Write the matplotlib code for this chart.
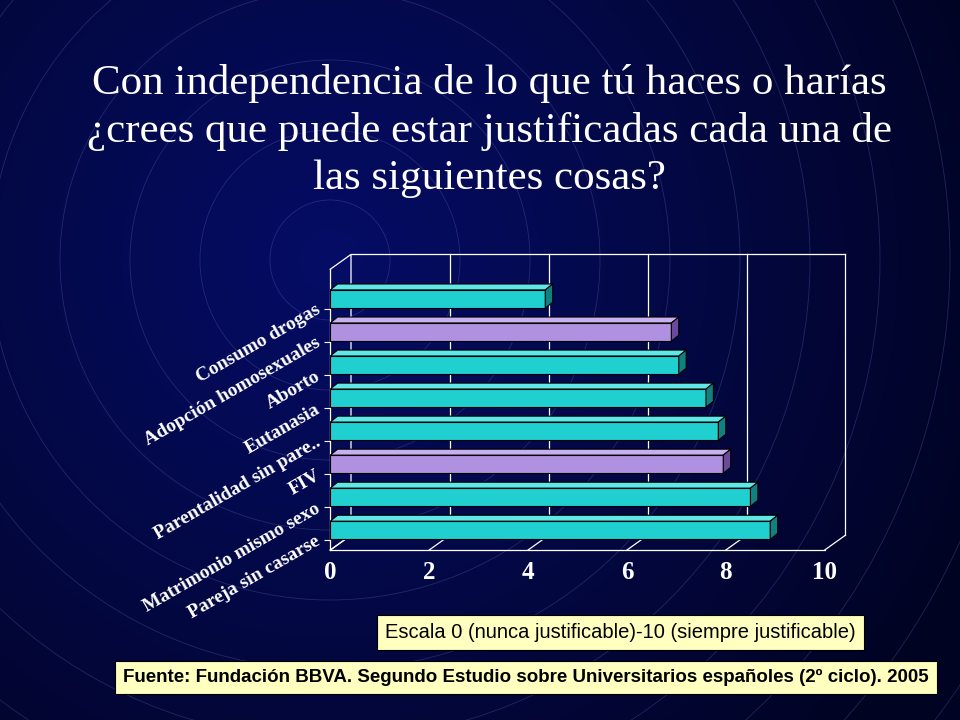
import matplotlib
matplotlib.use("Agg")
import matplotlib.pyplot as plt
import numpy as np
from matplotlib.patches import Polygon, Circle

categories = ["Pareja sin casarse", "Matrimonio mismo sexo", "FIV", "Parentalidad sin pare..",
              "Eutanasia", "Aborto", "Adopción homosexuales", "Consumo drogas"]
values = [8.9, 8.5, 7.95, 7.85, 7.6, 7.05, 6.9, 4.35]
highlight = [False, False, True, False, False, False, True, False]
xticks = [0, 2, 4, 6, 8, 10]

fig = plt.figure(figsize=(9.6, 7.2), dpi=100)
bg = fig.add_axes([0, 0, 1, 1], zorder=-10)
yy, xx = np.mgrid[0:720, 0:960]
r = np.hypot(xx - 330, yy - 260)
img = 0.25 + 0.75 * np.clip(1 - r / 700, 0, 1)
rgb = np.dstack([0.02 * img, 0.05 * img, 0.35 * img + 0.05])
bg.imshow(rgb, extent=[0, 960, 720, 0])
for rad in range(60, 900, 70):
    bg.add_patch(Circle((330, 260), rad, fill=False, ec=(0.35, 0.4, 0.7), lw=0.6, alpha=0.35))
bg.set_xlim(0, 960); bg.set_ylim(720, 0); bg.axis("off")

fig.text(0.51, 0.818, "Con independencia de lo que tú haces o harías\n¿crees que puede estar justificadas cada una de\nlas siguientes cosas?",
         ha="center", va="center", color="white", fontsize=31, family="Liberation Serif", linespacing=1.3)

ax = fig.add_axes([0.344, 0.236, 0.515, 0.39])
ax.patch.set_alpha(0)
ax.set_xlim(0, 10); ax.set_ylim(-0.6, 7.9)
dx, dy = 0.42, 0.45
for s in ax.spines.values():
    s.set_visible(False)
for x in xticks:
    ax.plot([x, x + dx], [-0.6, -0.6 + dy], color="white", lw=0.9, clip_on=False)
    if x > 0:
        ax.plot([x + dx, x + dx], [-0.6 + dy, 7.9 + dy], color="white", lw=0.9, clip_on=False)
ax.plot([0, 10], [-0.6, -0.6], color="white", lw=0.9, clip_on=False)
ax.plot([0, 0], [-0.6, 7.9], color="white", lw=0.9, clip_on=False)
ax.plot([0, dx, dx, 0], [7.9, 7.9 + dy, -0.6 + dy, -0.6], color="white", lw=0.9, clip_on=False)
ax.plot([dx, 10 + dx], [7.9 + dy, 7.9 + dy], color="white", lw=0.9, clip_on=False)

h = 0.55
bdx, bdy = 0.15, 0.18
for i, (v, hl) in enumerate(zip(values, highlight)):
    front = "#b090e0" if hl else "#20d0d0"
    top = "#c8b0f0" if hl else "#60e8e8"
    side = "#6a4a9a" if hl else "#108080"
    ax.barh(i, v, height=h, color=front, edgecolor="black", lw=0.8, zorder=3)
    y1 = i + h / 2
    ax.add_patch(Polygon([(0, y1), (v, y1), (v + bdx, y1 + bdy), (bdx, y1 + bdy)],
                         closed=True, fc=top, ec="black", lw=0.8, zorder=3))
    ax.add_patch(Polygon([(v, i - h / 2), (v, y1), (v + bdx, y1 + bdy), (v + bdx, i - h / 2 + bdy)],
                         closed=True, fc=side, ec="black", lw=0.8, zorder=3))

ax.set_xticks(xticks)
ax.set_xticklabels([str(t) for t in xticks], color="white", fontsize=18, fontweight="bold",
                   family="Liberation Serif")
ax.tick_params(axis="x", length=0, pad=8)
ax.set_yticks(np.arange(len(categories)) - 0.3)
ax.set_yticklabels(categories, rotation=30, ha="right", va="center", rotation_mode="anchor",
                   color="white", fontsize=14, fontweight="bold", family="Liberation Serif")
ax.tick_params(axis="y", length=4, color="white", pad=4)

fig.text(0.646, 0.121, "Escala 0 (nunca justificable)-10 (siempre justificable)", ha="center", va="center",
         fontsize=14.5, color="black", family="Liberation Sans",
         bbox=dict(boxstyle="square,pad=0.4", fc="#ffffc0", ec="black", lw=0.8))
fig.text(0.548, 0.059, "Fuente: Fundación BBVA. Segundo Estudio sobre Universitarios españoles (2º ciclo). 2005",
         ha="center", va="center", fontsize=13.5, fontweight="bold", color="black", family="Liberation Sans",
         bbox=dict(boxstyle="square,pad=0.45", fc="#ffffc0", ec="black", lw=0.8))

fig.savefig("out.png", dpi=100)
